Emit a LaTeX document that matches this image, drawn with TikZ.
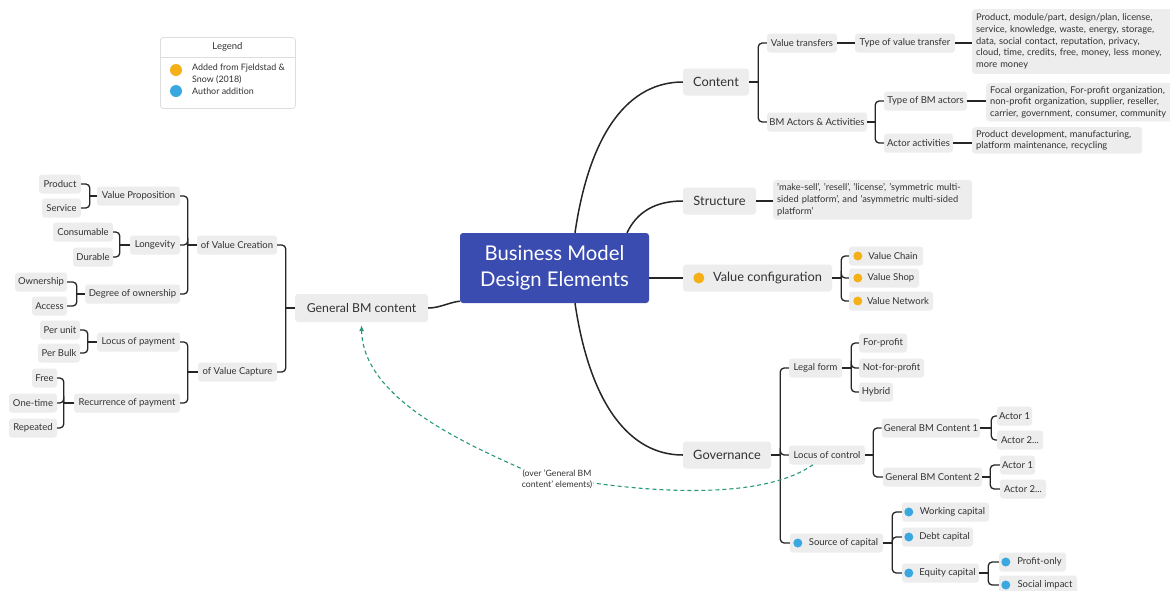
\documentclass[tikz,border=0pt]{standalone}
\usepackage{fontspec}
\setmainfont{Lato}
\usetikzlibrary{arrows.meta}
\definecolor{boxgray}{RGB}{237,237,237}
\definecolor{inkc}{RGB}{38,38,38}
\definecolor{txt}{RGB}{50,50,50}
\definecolor{hub}{RGB}{58,76,176}
\definecolor{fjorange}{RGB}{244,176,22}
\definecolor{authblue}{RGB}{58,168,224}
\definecolor{linkteal}{RGB}{40,152,124}
\definecolor{legendline}{RGB}{222,222,222}
\begin{document}
\begin{tikzpicture}[x=1pt,y=-1pt,
  every node/.style={text=txt},
  tag/.style={fill=boxgray, rounded corners=3pt, inner xsep=2pt, inner ysep=0pt,
    minimum height=19pt, font=\fontsize{9.5}{11}\selectfont},
  midtag/.style={tag, minimum height=27pt, font=\fontsize{12.8}{15}\selectfont},
  note/.style={fill=boxgray, rounded corners=3pt, align=left, inner xsep=4pt,
    inner ysep=4.5pt, anchor=north west, font=\fontsize{9.3}{11.8}\selectfont},
  conn/.style={draw=inkc, line width=1.3pt, rounded corners=4pt},
  trunk/.style={draw=inkc, line width=1.5pt},
  link/.style={draw=linkteal, line width=1.1pt, dashed, dash pattern=on 4pt off 3pt},
]
\useasboundingbox (0,0) rectangle (1170,590);
\fill[white] (0,0) rectangle (1170,590);

% ---------- legend ----------
\node[draw=legendline, fill=white, rounded corners=3pt, line width=0.8pt,
  minimum width=135pt, minimum height=71pt, anchor=north west] (legend) at (160,37) {};
\node[font=\fontsize{9.5}{11}\selectfont] (legendtitle) at (227.5,47) {Legend};
\draw[legendline, line width=0.8pt] ([yshift=-20pt]legend.north west) -- ([yshift=-20pt]legend.north east);
\fill[fjorange] (176,70) circle (6pt);
\fill[authblue] (176,91) circle (6pt);
\node[anchor=west, align=left, inner sep=0pt, font=\fontsize{8.9}{11.5}\selectfont] (legfj) at (192,74)
  {Added from Fjeldstad \&\\Snow (2018)};
\node[anchor=west, inner sep=0pt, font=\fontsize{8.9}{10}\selectfont] (legauth) at (192,91) {Author addition};

% ---------- central topic ----------
\node[fill=hub, rounded corners=3pt, minimum width=189pt, minimum height=70pt,
  align=center, text=white, font=\fontsize{20.3}{26}\selectfont] (hub) at (554.5,268)
  {Business Model\\Design Elements};

% ---------- left branch: general BM content ----------
\node[tag, minimum height=28pt, minimum width=133pt, font=\fontsize{12.3}{14}\selectfont] (gbm) at (361.5,308) {General BM content};
\node[tag, minimum width=80pt] (cre) at (237,245) {of Value Creation};
\node[tag, minimum width=79pt] (cap) at (237.5,372) {of Value Capture};

\node[tag, minimum width=83pt] (vp)  at (138.5,196) {Value Proposition};
\node[tag, minimum width=50pt] (lon) at (155,245) {Longevity};
\node[tag, minimum width=95pt] (own) at (132.5,294) {Degree of ownership};
\node[tag, minimum width=42pt] (prod) at (60,184) {Product};
\node[tag, minimum width=39pt] (serv) at (61.5,208) {Service};
\node[tag, minimum width=60pt] (cons) at (83,232) {Consumable};
\node[tag, minimum width=40pt] (dur)  at (93,257) {Durable};
\node[tag, minimum width=52pt] (owns) at (41,282) {Ownership};
\node[tag, minimum width=35pt] (acc)  at (49.5,306) {Access};

\node[tag, minimum width=83pt]  (lop) at (138.5,342) {Locus of payment};
\node[tag, minimum width=106pt] (rec) at (127,403) {Recurrence of payment};
\node[tag, minimum width=40pt] (pu)   at (60,330) {Per unit};
\node[tag, minimum width=42pt] (pb)   at (59,353) {Per Bulk};
\node[tag, minimum width=25pt] (free) at (44.5,378) {Free};
\node[tag, minimum width=48pt] (one)  at (33,403) {One-time};
\node[tag, minimum width=48pt] (rep)  at (33,428) {Repeated};

% brackets opening to the left
\coordinate (bG)   at ([xshift=-9pt]gbm.west);
\coordinate (bCre) at ([xshift=-9pt]cre.west);
\coordinate (bCap) at ([xshift=-10pt]cap.west);
\coordinate (bVp)  at ([xshift=-7pt]vp.west);
\coordinate (bLon) at ([xshift=-10pt]lon.west);
\coordinate (bOwn) at ([xshift=-8pt]own.west);
\coordinate (bLop) at ([xshift=-9pt]lop.west);
\coordinate (bRec) at ([xshift=-10pt]rec.west);
\draw[conn] (gbm.west) -- (bG);
\foreach \c in {cre,cap} \draw[conn] (bG) |- (\c.east);
\draw[conn] (cre.west) -- (bCre);
\foreach \c in {vp,lon,own} \draw[conn] (bCre) |- (\c.east);
\draw[conn] (cap.west) -- (bCap);
\foreach \c in {lop,rec} \draw[conn] (bCap) |- (\c.east);
\draw[conn] (vp.west) -- (bVp);
\foreach \c in {prod,serv} \draw[conn] (bVp) |- (\c.east);
\draw[conn] (lon.west) -- (bLon);
\foreach \c in {cons,dur} \draw[conn] (bLon) |- (\c.east);
\draw[conn] (own.west) -- (bOwn);
\foreach \c in {owns,acc} \draw[conn] (bOwn) |- (\c.east);
\draw[conn] (lop.west) -- (bLop);
\foreach \c in {pu,pb} \draw[conn] (bLop) |- (\c.east);
\draw[conn] (rec.west) -- (bRec);
\foreach \c in {free,one,rep} \draw[conn] (bRec) |- (\c.east);

% ---------- right branches ----------
\node[midtag, minimum width=66pt]  (content) at (716,82) {Content};
\node[midtag, minimum width=73pt]  (struct)  at (719.5,201) {Structure};
\node[midtag, minimum width=149pt] (vcfg)    at (757.5,278) {\hspace*{20pt}Value configuration};
\node[midtag, minimum width=88pt]  (gov)     at (727,455) {Governance};
\fill[fjorange] ([xshift=16pt]vcfg.west) circle (5.5pt);

% content
\node[tag, minimum width=70pt]  (vt)  at (802,43) {Value transfers};
\node[tag, minimum width=100pt] (tvt) at (905,43) {Type of value transfer};
\node[note, text width=215pt] (vtnote) at (972,9)
  {Product, module/part, design/plan, license,\\service, knowledge, waste, energy, storage,\\data, social contact, reputation, privacy,\\cloud, time, credits, free, money, less money,\\more money};
\node[tag, minimum width=100pt] (bma) at (817,122) {BM Actors \& Activities};
\node[tag, minimum width=83pt]  (tba) at (925.5,101) {Type of BM actors};
\node[tag, minimum width=69pt]  (aa)  at (918.5,143) {Actor activities};
\node[note, inner ysep=3pt, text width=215pt] (tbanote) at (986,83)
  {Focal organization, For-profit organization,\\non-profit organization, supplier, reseller,\\carrier, government, consumer, community};
\node[note, inner ysep=3pt, text width=162pt] (aanote) at (972,127)
  {Product development, manufacturing,\\platform maintenance, recycling};

\coordinate (bCt)  at ([xshift=9pt]content.east);
\coordinate (bBma) at ([xshift=8pt]bma.east);
\draw[conn] (content.east) -- (bCt);
\foreach \c in {vt,bma} \draw[conn] (bCt) |- (\c.west);
\draw[conn] (vt.east) -- (tvt.west);
\draw[conn] (tvt.east) -- (tvt.east -| vtnote.west);
\draw[conn] (bma.east) -- (bBma);
\foreach \c in {tba,aa} \draw[conn] (bBma) |- (\c.west);
\draw[conn] (tba.east) -- (tba.east -| tbanote.west);
\draw[conn] (aa.east) -- (aa.east -| aanote.west);

% structure
\node[note, inner ysep=3.5pt, text width=191pt] (stnote) at (773,180)
  {'make-sell', 'resell', 'license', 'symmetric multi-\\sided platform', and 'asymmetric multi-sided\\platform'};
\draw[conn] (struct.east) -- (struct.east -| stnote.west);

% value configuration
\node[tag, minimum width=74pt] (vch) at (886,256) {\hspace*{14pt}Value Chain};
\node[tag, minimum width=70pt] (vsh) at (884,278) {\hspace*{14pt}Value Shop};
\node[tag, minimum width=84pt] (vnw) at (891,301) {\hspace*{14pt}Value Network};
\foreach \c in {vch,vsh,vnw} \fill[fjorange] ([xshift=9pt]\c.west) circle (4.5pt);
\coordinate (bVc) at ([xshift=9pt]vcfg.east);
\draw[conn] (vcfg.east) -- (bVc);
\foreach \c in {vch,vsh,vnw} \draw[conn] (bVc) |- (\c.west);

% governance
\node[tag, minimum width=53pt] (legal) at (815.5,368) {Legal form};
\node[tag, minimum width=76pt] (loc)   at (827,455) {Locus of control};
\node[tag, minimum width=93pt] (soc)   at (836.5,543) {\hspace*{14pt}Source of capital};
\fill[authblue] ([xshift=8pt]soc.west) circle (4.5pt);

\node[tag, minimum width=48pt] (fp)  at (883,343) {For-profit};
\node[tag, minimum width=65pt] (nfp) at (891.5,368) {Not-for-profit};
\node[tag, minimum width=34pt] (hyb) at (876,392) {Hybrid};

\node[tag, minimum width=96pt] (gc1) at (931,428) {General BM Content 1};
\node[tag, minimum width=99pt] (gc2) at (932.5,477) {General BM Content 2};
\node[tag, minimum width=35pt] (a11) at (1014.5,416) {Actor 1};
\node[tag, minimum width=46pt] (a12) at (1020,440) {Actor 2...};
\node[tag, minimum width=35pt] (a21) at (1017.5,465) {Actor 1};
\node[tag, minimum width=46pt] (a22) at (1023,489) {Actor 2...};

\node[tag, minimum width=87pt] (wc)  at (945.5,512) {\hspace*{14pt}Working capital};
\node[tag, minimum width=71pt] (dc)  at (937.5,537) {\hspace*{14pt}Debt capital};
\node[tag, minimum width=77pt] (ec)  at (940.5,573) {\hspace*{14pt}Equity capital};
\node[tag, minimum width=67pt] (po)  at (1032.5,562) {\hspace*{14pt}Profit-only};
\node[tag, minimum width=78pt] (si)  at (1038,585) {\hspace*{14pt}Social impact};
\foreach \c in {wc,dc,ec,po,si} \fill[authblue] ([xshift=7pt]\c.west) circle (4.5pt);

\coordinate (bGov) at ([xshift=9pt]gov.east);
\coordinate (bLeg) at ([xshift=9pt]legal.east);
\coordinate (bLoc) at ([xshift=8pt]loc.east);
\coordinate (bG1)  at ([xshift=11pt]gc1.east);
\coordinate (bG2)  at ([xshift=8pt]gc2.east);
\coordinate (bSoc) at ([xshift=9pt]soc.east);
\coordinate (bEq)  at ([xshift=9pt]ec.east);
\draw[conn] (gov.east) -- (bGov);
\foreach \c in {legal,loc,soc} \draw[conn] (bGov) |- (\c.west);
\draw[conn] (legal.east) -- (bLeg);
\foreach \c in {fp,nfp,hyb} \draw[conn] (bLeg) |- (\c.west);
\draw[conn] (loc.east) -- (bLoc);
\foreach \c in {gc1,gc2} \draw[conn] (bLoc) |- (\c.west);
\draw[conn] (gc1.east) -- (bG1);
\foreach \c in {a11,a12} \draw[conn] (bG1) |- (\c.west);
\draw[conn] (gc2.east) -- (bG2);
\foreach \c in {a21,a22} \draw[conn] (bG2) |- (\c.west);
\draw[conn] (soc.east) -- (bSoc);
\foreach \c in {wc,dc,ec} \draw[conn] (bSoc) |- (\c.west);
\draw[conn] (ec.east) -- (bEq);
\foreach \c in {po,si} \draw[conn] (bEq) |- (\c.west);

% ---------- trunks from the central topic ----------
\draw[trunk] ([xshift=20.5pt]hub.north) .. controls (590,130) and (630,82) .. (content.west);
\draw[trunk] ([xshift=72.5pt]hub.north) .. controls (637,212) and (655,201) .. (struct.west);
\draw[trunk] ([yshift=-10pt]hub.east) -- (vcfg.west);
\draw[trunk] ([xshift=20.5pt]hub.south) .. controls (590,405) and (630,455) .. (gov.west);
\draw[trunk] ([yshift=2pt]hub.south west) .. controls (450,302) and (440,308) .. (gbm.east);

% ---------- cross link ----------
\node[align=center, inner sep=1pt, font=\fontsize{8.7}{11}\selectfont] (ovr) at (557,479)
  {(over 'General BM\\content' elements)};
\draw[link] ([xshift=-14pt]loc.south) .. controls (770,495) and (680,495) .. ([yshift=-4pt]ovr.east);
\draw[link, -{Latex[length=6pt,width=5pt]}] (ovr.north west) .. controls (470,445) and (363,400) .. ([yshift=-3pt]gbm.south);
\end{tikzpicture}
\end{document}
